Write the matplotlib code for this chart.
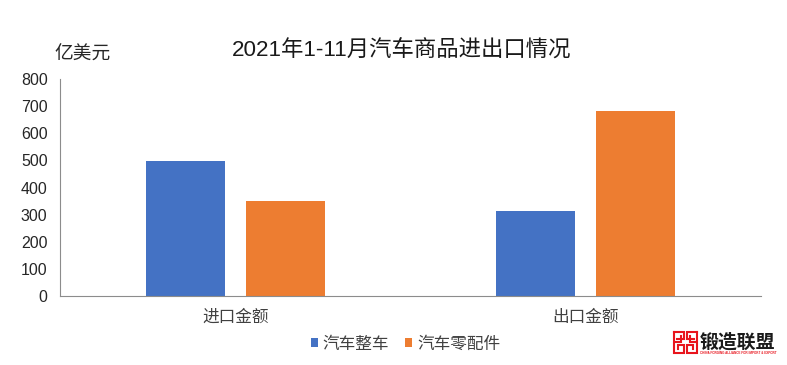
import matplotlib
matplotlib.use('Agg')
import matplotlib.pyplot as plt
from matplotlib.lines import Line2D

plt.rcParams['font.family'] = ['Liberation Sans', 'Noto Sans CJK SC', 'DejaVu Sans']

categories = ['进口金额', '出口金额']
series_names = ['汽车整车', '汽车零配件']
vehicles = [498, 313]
parts = [350, 682]
yticks = [0, 100, 200, 300, 400, 500, 600, 700, 800]
colors = ['#4472C4', '#ED7D31']

fig = plt.figure(figsize=(7.87, 3.65), dpi=100)
ax = fig.add_axes([60/787, 1 - 296/365, 701/787, 217/365])

width = 0.225
x = [0, 1]
ax.bar([i - 0.285/2 for i in x], vehicles, width=width, color=colors[0], label=series_names[0])
ax.bar([i + 0.285/2 for i in x], parts, width=width, color=colors[1], label=series_names[1])

ax.set_xlim(-0.5, 1.5)
ax.set_ylim(0, 800)
ax.set_yticks(yticks)
ax.set_xticks(x)
ax.set_xticklabels(categories, fontsize=12, color='#404040')
ax.tick_params(axis='x', length=0, pad=9.5)
ax.tick_params(axis='y', length=0, pad=9, labelsize=11.5, labelcolor='#262626')
for s in ['top', 'right']:
    ax.spines[s].set_visible(False)
ax.spines['left'].set_color('#8c8c8c')
ax.spines['bottom'].set_color('#8c8c8c')
ax.spines['left'].set_linewidth(0.8)
ax.spines['bottom'].set_linewidth(0.8)

fig.text(402/787, 1 - 51/365, '2021年1-11月汽车商品进出口情况', fontsize=16.1, color='#1a1a1a', ha='center', va='center')
fig.text(83/787, 1 - 55/365, '亿美元', fontsize=13.5, color='#262626', ha='center', va='center')

ax.legend(loc='center', bbox_to_anchor=(405.5/787, 1 - 344/365), bbox_transform=fig.transFigure,
          ncol=2, frameon=False, fontsize=12, handlelength=0.42, handleheight=0.42,
          handletextpad=0.3, columnspacing=0.96, labelcolor='#404040', borderpad=0, borderaxespad=0)

# logo
red = '#E8141C'
logo_paths = [
    ([674, 684, 684, 677], [332, 332, 339, 339]),
    ([674, 674, 681, 681], [332, 342, 342, 336]),
    ([697, 687, 687, 694], [332, 332, 339, 339]),
    ([697, 697, 690, 690], [332, 342, 342, 336]),
    ([674, 674, 684, 684, 678, 678], [344, 353, 353, 345, 345, 349]),
    ([697, 697, 687, 687, 693, 693], [344, 353, 353, 345, 345, 349]),
]
for xs, ys in logo_paths:
    fig.add_artist(Line2D([v/787 for v in xs], [1 - v/365 for v in ys], transform=fig.transFigure,
                          color=red, linewidth=1.5, solid_joinstyle='miter'))
fig.text(700/787, 1 - 342/365, '锻造联盟', fontsize=13.6, fontweight='bold', color='#1a1a1a', ha='left', va='center')
fig.text(700/787, 1 - 352.5/365, 'CHINA FORGING ALLIANCE FOR IMPORT & EXPORT', fontsize=2.15, fontweight='bold', color=red, ha='left', va='center')

fig.savefig('out.png', dpi=100)
